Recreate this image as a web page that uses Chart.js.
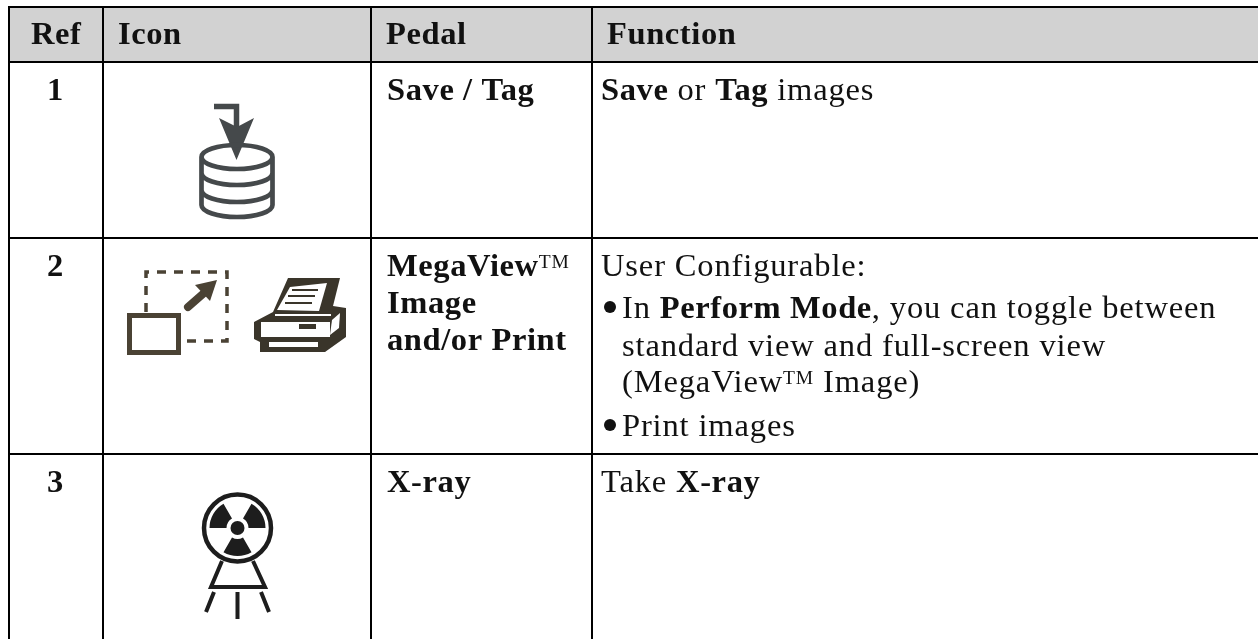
<html>
  <body style="margin:0;background:#fff">
    <script src="https://cdn.jsdelivr.net/npm/chart.js@4/dist/chart.umd.min.js"></script>
    <canvas id="myChart" width="1258" height="639" style="display:block"></canvas>
    <script>
      // table content
      var headers = ["Ref", "Icon", "Pedal", "Function"];
      var refs = ["1", "2", "3"];
      // a line is a list of runs: [text, style], b = bold, r = regular, s = superscript
      var pedals = [
        [[["Save / Tag", "b"]]],
        [[["MegaView", "b"], ["TM", "s"]], [["Image", "b"]], [["and/or Print", "b"]]],
        [[["X-ray", "b"]]]
      ];
      var functions = [
        [[["Save", "b"], [" or ", "r"], ["Tag", "b"], [" images", "r"]]],
        [
          [["User Configurable:", "r"]],
          [["In ", "r"], ["Perform Mode", "b"], [", you can toggle between", "r"]],
          [["standard view and full-screen view", "r"]],
          [["(MegaView", "r"], ["TM", "s"], [" Image)", "r"]],
          [["Print images", "r"]]
        ],
        [[["Take ", "r"], ["X-ray", "b"]]]
      ];
      var bullets = [false, true, false, false, true]; // row 2 function lines
      var indents = [false, true, true, true, true];

      // table rules, in axis units
      var columnEdges = [9, 103, 371, 592];
      var rowEdges = [7, 62, 238, 454];
      var headerBand = [{ x: 8, y: 7 }, { x: 1258, y: 7 }];

      var serif = '"Liberation Serif"';
      var size = 31;
      var stretch = 1.05; // Palatino in the scan runs wider than Liberation

      function font(style) {
        var px = style.indexOf("s") >= 0 ? size * 0.6 : size;
        return (style.indexOf("b") >= 0 ? "bold " : "") + px + "px " + serif;
      }

      function drawRuns(ctx, runs, x, y) {
        runs.forEach(r => {
          ctx.font = font(r[1]);
          ctx.letterSpacing = r[1].indexOf("b") >= 0 ? "0.55px" : "0.8px";
          ctx.save();
          ctx.translate(x, r[1].indexOf("s") >= 0 ? y - 8 : y);
          ctx.scale(stretch, 1);
          ctx.fillText(r[0], 0, 0);
          ctx.restore();
          x += ctx.measureText(r[0]).width * stretch;
        });
      }

      function iconDatabase(ctx) {
        ctx.strokeStyle = ctx.fillStyle = "#45494b";
        ctx.lineWidth = 5.5;
        ctx.beginPath();
        ctx.moveTo(214, 106.5);
        ctx.lineTo(236.5, 106.5);
        ctx.lineTo(236.5, 135);
        ctx.stroke();
        ctx.beginPath();
        ctx.moveTo(219, 118);
        ctx.lineTo(237, 127);
        ctx.lineTo(254, 118);
        ctx.lineTo(236.5, 160);
        ctx.closePath();
        ctx.fill();
        ctx.lineWidth = 4.7;
        ctx.beginPath();
        ctx.ellipse(237, 157, 35.5, 12, 0, 0, Math.PI * 2);
        ctx.moveTo(201.5, 157);
        ctx.lineTo(201.5, 205);
        ctx.ellipse(237, 205, 35.5, 12, 0, Math.PI, 0, true);
        ctx.lineTo(272.5, 157);
        ctx.moveTo(201.5, 173);
        ctx.ellipse(237, 173, 35.5, 12, 0, Math.PI, 0, true);
        ctx.moveTo(201.5, 190);
        ctx.ellipse(237, 190, 35.5, 12, 0, Math.PI, 0, true);
        ctx.stroke();
      }

      function iconMegaView(ctx) {
        ctx.strokeStyle = ctx.fillStyle = "#4a4234";
        ctx.lineWidth = 3.5;
        ctx.setLineDash([9, 8]);
        ctx.beginPath();
        ctx.moveTo(146, 312);
        ctx.lineTo(146, 272);
        ctx.lineTo(227, 272);
        ctx.lineTo(227, 341);
        ctx.lineTo(180, 341);
        ctx.stroke();
        ctx.setLineDash([]);
        ctx.lineWidth = 5;
        ctx.strokeRect(129.5, 315.5, 49, 37);
        ctx.lineWidth = 8;
        ctx.lineCap = "round";
        ctx.beginPath();
        ctx.moveTo(188, 307);
        ctx.lineTo(204, 293);
        ctx.stroke();
        ctx.beginPath();
        ctx.moveTo(195, 285);
        ctx.lineTo(217, 280);
        ctx.lineTo(210, 301);
        ctx.closePath();
        ctx.fill();
      }

      function iconPrinter(ctx) {
        ctx.fillStyle = "#3a352a";
        ctx.beginPath();
        ctx.moveTo(288, 278);
        ctx.lineTo(340, 278);
        ctx.lineTo(333, 306);
        ctx.lineTo(346, 308);
        ctx.lineTo(346, 337);
        ctx.lineTo(325, 352);
        ctx.lineTo(260, 352);
        ctx.lineTo(260, 342);
        ctx.lineTo(254, 339);
        ctx.lineTo(254, 322);
        ctx.lineTo(273, 312);
        ctx.closePath();
        ctx.fill();
        ctx.fillStyle = "#fff";
        ctx.beginPath();
        ctx.moveTo(290, 287);
        ctx.lineTo(327, 283);
        ctx.lineTo(319, 311);
        ctx.lineTo(277, 310);
        ctx.closePath();
        ctx.fill();
        ctx.fillRect(261, 322, 69, 15);
        ctx.fillRect(269, 342, 49, 5);
        ctx.fillRect(275, 314, 56, 2);
        ctx.beginPath();
        ctx.moveTo(332, 320);
        ctx.lineTo(340, 313);
        ctx.lineTo(339, 328);
        ctx.lineTo(330, 335);
        ctx.closePath();
        ctx.fill();
        ctx.fillStyle = "#3a352a";
        ctx.fillRect(292, 289, 26, 2);
        ctx.fillRect(288, 295, 27, 2);
        ctx.fillRect(285, 302, 27, 2);
        ctx.fillRect(299, 324, 17, 5);
      }

      function iconXray(ctx) {
        ctx.strokeStyle = ctx.fillStyle = "#1d1d1d";
        ctx.lineWidth = 4.5;
        ctx.beginPath();
        ctx.arc(237.5, 528, 33.5, 0, Math.PI * 2);
        ctx.stroke();
        ctx.beginPath();
        ctx.arc(237.5, 528, 7, 0, Math.PI * 2);
        ctx.fill();
        [90, 210, 330].forEach(a => {
          var from = ((a - 30) * Math.PI) / 180;
          var to = ((a + 30) * Math.PI) / 180;
          ctx.beginPath();
          ctx.arc(237.5, 528, 28, from, to);
          ctx.arc(237.5, 528, 11, to, from, true);
          ctx.closePath();
          ctx.fill();
        });
        ctx.lineWidth = 4;
        ctx.beginPath();
        ctx.moveTo(222, 561);
        ctx.lineTo(211, 587);
        ctx.lineTo(265, 587);
        ctx.lineTo(253, 561);
        ctx.moveTo(214, 592);
        ctx.lineTo(206, 612);
        ctx.moveTo(237.5, 592);
        ctx.lineTo(237.5, 619);
        ctx.moveTo(261, 592);
        ctx.lineTo(269, 612);
        ctx.stroke();
      }

      var tablePlugin = {
        id: "tableText",
        afterDraw(chart) {
          var ctx = chart.ctx;
          var sx = chart.scales.x;
          var sy = chart.scales.y;
          ctx.save();
          ctx.fillStyle = "#111";
          ctx.textBaseline = "alphabetic";

          var headX = [31, 118, 386, 607];
          headers.forEach((h, i) => drawRuns(ctx, [[h, "b"]], sx.getPixelForValue(headX[i]), sy.getPixelForValue(44)));

          var refBase = [100, 276, 492];
          refs.forEach((r, i) => drawRuns(ctx, [[r, "b"]], sx.getPixelForValue(47), sy.getPixelForValue(refBase[i])));

          var pedalBase = [[100], [276, 313, 350], [492]];
          pedals.forEach((lines, i) => {
            lines.forEach((l, j) => drawRuns(ctx, l, sx.getPixelForValue(387), sy.getPixelForValue(pedalBase[i][j])));
          });

          var funcBase = [[100], [276, 318, 356, 392, 436], [492]];
          functions.forEach((lines, i) => {
            lines.forEach((l, j) => {
              var y = sy.getPixelForValue(funcBase[i][j]);
              var x = sx.getPixelForValue(i == 1 && indents[j] ? 622 : 601);
              if (i == 1 && bullets[j]) {
                ctx.beginPath();
                ctx.arc(sx.getPixelForValue(610), y - 11, 6, 0, Math.PI * 2);
                ctx.fill();
              }
              drawRuns(ctx, l, x, y);
            });
          });
          ctx.restore();

          [iconDatabase, iconMegaView, iconPrinter, iconXray].forEach(icon => {
            ctx.save();
            ctx.translate(sx.getPixelForValue(0), sy.getPixelForValue(0));
            icon(ctx);
            ctx.restore();
          });
        }
      };

      var myChart = new Chart(document.getElementById("myChart").getContext("2d"), {
        type: "scatter",
        data: {
          datasets: [
            {
              label: "Header",
              data: headerBand,
              showLine: true,
              borderWidth: 0,
              pointRadius: 0,
              backgroundColor: "#d2d2d2",
              fill: { value: rowEdges[1] }
            }
          ]
        },
        options: {
          responsive: false,
          animation: false,
          events: [],
          layout: { padding: { left: 8, top: 6 } },
          plugins: { legend: { display: false }, tooltip: { enabled: false } },
          scales: {
            x: {
              type: "linear",
              min: 8,
              max: 1258,
              afterBuildTicks: axis => {
                axis.ticks = columnEdges.map(v => ({ value: v }));
              },
              afterFit: axis => {
                axis.height = 0;
              },
              ticks: { display: false },
              border: { display: false },
              grid: {
                z: 1,
                color: "#000",
                lineWidth: 2,
                drawTicks: false
              }
            },
            y: {
              type: "linear",
              reverse: true,
              min: 6,
              max: 639,
              afterBuildTicks: axis => {
                axis.ticks = rowEdges.map(v => ({ value: v }));
              },
              afterFit: axis => {
                axis.width = 0;
              },
              ticks: { display: false },
              border: { display: false },
              grid: {
                z: 1,
                color: "#000",
                lineWidth: 2,
                drawTicks: false
              }
            }
          }
        },
        plugins: [tablePlugin]
      });
    </script>
  </body>
</html>
